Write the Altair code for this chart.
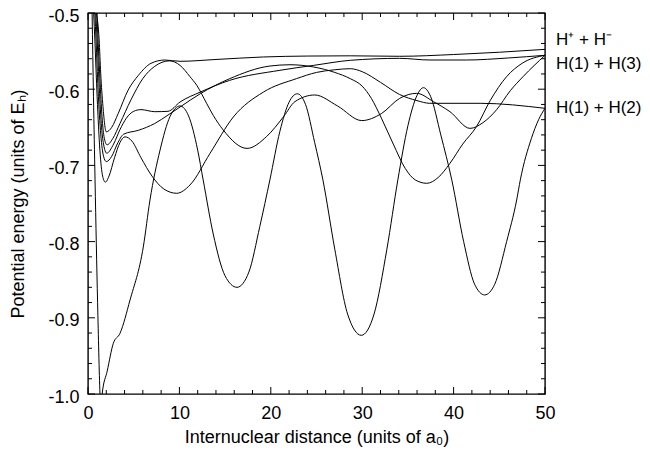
import altair as alt
import pandas as pd

W, H = 457, 381
FONT = "Liberation Sans"

# ---------------- curve data ----------------
ionic_x = [0.92, 1.22, 1.39, 1.64, 2.0, 2.6, 3.3, 4.4, 5.5, 6.9, 8.4, 10.07, 14.0, 19.2, 24.0, 28.7, 34.1, 40.0, 45.0, 50.0]
ionic_y = [-0.5, -0.5354, -0.579, -0.623, -0.656, -0.650, -0.632, -0.601, -0.582, -0.566, -0.5617, -0.5634, -0.561, -0.5577, -0.5565, -0.5562, -0.5568, -0.5545, -0.5515, -0.5477]

osc_x = [0.98, 1.1, 1.28, 1.5, 1.75, 2.08, 2.7, 3.5, 4.7, 6.0, 7.3, 8.9, 10.07, 11.16, 11.9, 12.98, 13.7, 14.8, 17.4, 19.55, 21.4, 22.65, 24.8, 27.3, 29.95, 32.1, 34.1, 35.96, 37.8, 39.6, 41.8, 43.2, 44.7, 46.2, 47.6, 50.0]
osc_y = [-0.5, -0.5354, -0.58, -0.63, -0.662, -0.673, -0.665, -0.645, -0.614, -0.586, -0.570, -0.5628, -0.5687, -0.5836, -0.5949, -0.6186, -0.6343, -0.6536, -0.6777, -0.662, -0.636, -0.6162, -0.6076, -0.622, -0.6412, -0.632, -0.612, -0.6054, -0.6164, -0.6295, -0.6514, -0.644, -0.627, -0.602, -0.5835, -0.5555]

e_x = [0.85, 1.0, 1.2, 1.45, 1.7, 2.05, 2.8, 3.5, 4.2, 5.0, 5.8, 7.3, 8.75, 10.07, 12.3, 15.5, 21.0, 24.7, 28.7, 34.1, 37.4, 41.4, 46.0, 50.0]
e_y = [-0.5, -0.5354, -0.59, -0.645, -0.672, -0.684, -0.672, -0.653, -0.638, -0.629, -0.6268, -0.6295, -0.629, -0.6168, -0.6037, -0.5884, -0.5752, -0.5687, -0.5621, -0.5595, -0.5617, -0.5617, -0.559, -0.5555]

f_x = [0.75, 0.88, 1.1, 1.4, 1.7, 2.0, 2.6, 3.2, 3.9, 5.5, 7.3, 8.75, 10.07, 12.3, 15.5, 19.9, 22.1, 24.7, 27.0, 28.7, 30.0, 31.0, 32.1, 33.4, 34.7, 35.8, 37.06, 38.3, 39.6, 41.0, 42.5, 44.0, 45.8, 47.5, 50.0]
f_y = [-0.5, -0.5354, -0.6, -0.66, -0.688, -0.695, -0.688, -0.672, -0.659, -0.654, -0.645, -0.634, -0.6234, -0.6058, -0.5862, -0.5696, -0.5679, -0.5709, -0.578, -0.5862, -0.596, -0.612, -0.638, -0.672, -0.7038, -0.719, -0.7235, -0.716, -0.6973, -0.672, -0.6492, -0.615, -0.5835, -0.566, -0.5555]

b_x = [0.62, 0.75, 1.0, 1.3, 1.6, 1.9, 2.3, 2.9, 3.5, 4.05, 4.8, 5.8, 7.0, 8.3, 9.7, 11.16, 13.35, 15.9, 19.2, 22.8, 25.0, 27.0, 28.7, 30.0, 32.0, 34.1, 36.0, 37.4, 42.9, 50.0]
b_y = [-0.5, -0.5354, -0.61, -0.68, -0.714, -0.722, -0.714, -0.69, -0.670, -0.6625, -0.668, -0.69, -0.714, -0.731, -0.7366, -0.7257, -0.6842, -0.6365, -0.6037, -0.5862, -0.578, -0.5745, -0.5731, -0.577, -0.591, -0.607, -0.615, -0.6185, -0.6185, -0.6251]

d_x = [0.45, 0.6, 0.77, 1.05, 1.31, 1.42, 1.55, 2.1, 2.77, 3.5, 4.6, 6.05, 6.78, 7.88, 8.97, 10.07, 11.0, 12.0, 12.6, 13.7, 15.0, 16.3, 17.6, 18.8, 19.9, 21.0, 22.0, 22.9, 23.8, 24.8, 25.7, 27.0, 28.4, 29.9, 31.3, 32.7, 33.9, 35.0, 36.0, 36.7, 37.5, 38.6, 39.8, 41.1, 42.3, 43.4, 44.5, 45.8, 46.9, 47.3, 48.5, 49.3, 50.0]
d_y = [-0.5, -0.61, -0.719, -0.88, -1.0, -1.03, -1.0, -0.97, -0.9335, -0.9204, -0.8766, -0.807, -0.7454, -0.68, -0.636, -0.622, -0.635, -0.68, -0.719, -0.79, -0.845, -0.86, -0.84, -0.78, -0.719, -0.655, -0.617, -0.606, -0.62, -0.67, -0.719, -0.81, -0.895, -0.923, -0.895, -0.81, -0.719, -0.648, -0.608, -0.598, -0.61, -0.66, -0.719, -0.80, -0.856, -0.870, -0.856, -0.80, -0.7454, -0.719, -0.665, -0.64, -0.625]

# ---------------- labels / ticks ----------------
x_labels = [0, 10, 20, 30, 40, 50]
y_labels = [-1.0, -0.9, -0.8, -0.7, -0.6, -0.5]
x_minor = [2, 4, 6, 8, 12, 14, 16, 18, 22, 24, 26, 28, 32, 34, 36, 38, 42, 44, 46, 48]
y_minor = [-0.98, -0.96, -0.94, -0.92, -0.88, -0.86, -0.84, -0.82, -0.78, -0.76, -0.74, -0.72,
           -0.68, -0.66, -0.64, -0.62, -0.58, -0.56, -0.54, -0.52]

asym_labels = ["H\u207a + H\u207b", "H(1) + H(3)", "H(1) + H(2)"]
asym_label_y = [-0.5354, -0.567, -0.6253]

curves = [("ionic", ionic_x, ionic_y), ("osc", osc_x, osc_y), ("e", e_x, e_y),
          ("f", f_x, f_y), ("b", b_x, b_y), ("d", d_x, d_y)]
rows = []
for name, xs, ys in curves:
    for i, (a, b) in enumerate(zip(xs, ys)):
        rows.append({"curve": name, "x": a, "y": b, "i": i})
df = pd.DataFrame(rows)

xscale = alt.Scale(domain=[0, 50], nice=False, zero=False)
yscale = alt.Scale(domain=[-1.0, -0.5], nice=False, zero=False)

common_axis = dict(ticks=False, tickSize=0, domain=False, grid=False, labelFlush=False,
                   labelOverlap=False,
                   labelFontSize=18, titleFontSize=18, titleFontWeight="normal",
                   labelFont=FONT, titleFont=FONT, labelColor="black", titleColor="black")

XAXIS = alt.Axis(values=x_labels, format="d", title="Internuclear distance (units of a\u2080)",
                 labelPadding=10, titlePadding=6, **common_axis)
YAXIS = alt.Axis(values=y_labels, labelExpr="'-' + format(abs(datum.value), '.1f')",
                 title="Potential energy (units of E\u2095)", labelOffset=3,
                 labelPadding=9, titlePadding=20, **common_axis)

lines = alt.Chart(df).mark_line(clip=True, color="black", strokeWidth=1, interpolate="monotone").encode(
    x=alt.X("x:Q", scale=xscale, axis=XAXIS),
    y=alt.Y("y:Q", scale=yscale, axis=YAXIS),
    detail="curve:N",
    order="i:Q",
)

def xticks(vals, length):
    d = pd.DataFrame({"x": vals})
    bot = alt.Chart(d).mark_rule(color="black", strokeWidth=1).encode(
        x=alt.X("x:Q", scale=xscale, axis=XAXIS), y=alt.value(H), y2=alt.value(H - length))
    top = alt.Chart(d).mark_rule(color="black", strokeWidth=1).encode(
        x=alt.X("x:Q", scale=xscale, axis=XAXIS), y=alt.value(0), y2=alt.value(length))
    return [bot, top]

def yticks(vals, length):
    d = pd.DataFrame({"y": vals})
    left = alt.Chart(d).mark_rule(color="black", strokeWidth=1).encode(
        y=alt.Y("y:Q", scale=yscale, axis=YAXIS), x=alt.value(0), x2=alt.value(length))
    right = alt.Chart(d).mark_rule(color="black", strokeWidth=1).encode(
        y=alt.Y("y:Q", scale=yscale, axis=YAXIS), x=alt.value(W), x2=alt.value(W - length))
    return [left, right]

ticks = xticks(x_labels, 7) + xticks(x_minor, 4) + yticks(y_labels, 7) + yticks(y_minor, 4)

lab_df = pd.DataFrame({"label": asym_labels, "y": asym_label_y})
labels = alt.Chart(lab_df).mark_text(align="left", baseline="middle", fontSize=17, font=FONT,
                                     color="black").encode(
    x=alt.value(W + 11), y=alt.Y("y:Q", scale=yscale, axis=YAXIS), text="label:N")

chart = alt.layer(lines, *ticks, labels).properties(
    width=W, height=H,
    autosize=alt.AutoSizeParams(type="none"),
    padding={"left": 80, "top": 5, "right": 97, "bottom": 54},
).configure_view(stroke="black", strokeWidth=1.4)

chart.save("out.html", embed_options={"renderer": "svg", "actions": False})
